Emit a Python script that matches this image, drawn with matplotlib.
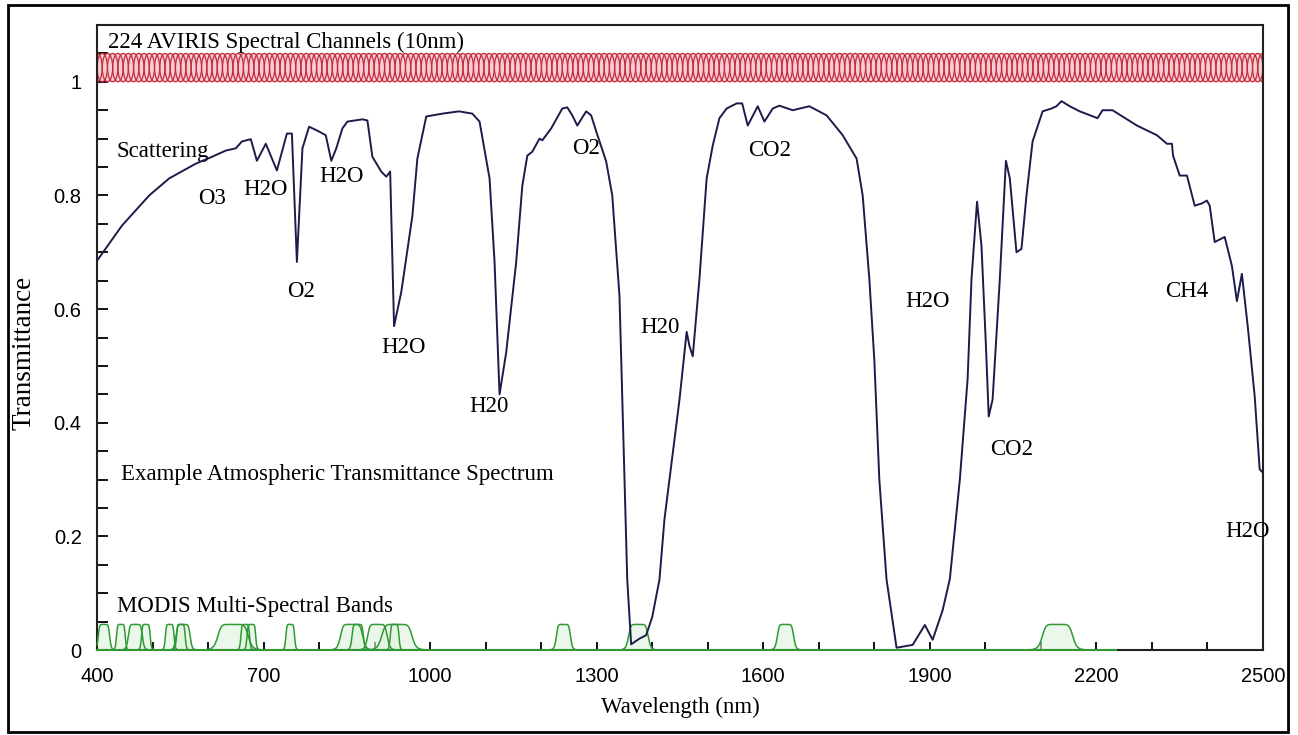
import matplotlib
matplotlib.use('Agg')
import matplotlib.pyplot as plt
from matplotlib.patches import Ellipse, Rectangle
import numpy as np

# atmospheric transmittance spectrum
wavelength = [400, 445, 494, 530, 578, 607, 632, 650, 661, 677, 688, 704, 724, 742, 751,
              760, 770, 782, 797, 812, 822, 831, 842, 851, 878, 887, 896, 912, 921, 928,
              935, 948, 968, 977, 993, 1022, 1052, 1076, 1089, 1107, 1116, 1125, 1137,
              1155, 1166, 1175, 1184, 1197, 1202, 1218, 1238, 1247, 1256, 1265, 1281,
              1290, 1299, 1317, 1328, 1341, 1355, 1362, 1377, 1389, 1400, 1413, 1422,
              1449, 1462, 1467, 1473, 1485, 1498, 1509, 1521, 1534, 1552, 1562, 1572,
              1590, 1602, 1617, 1629, 1653, 1683, 1714, 1743, 1768, 1779, 1791, 1800,
              1809, 1822, 1840, 1869, 1891, 1905, 1923, 1936, 1954, 1968, 1975, 1985,
              1993, 2001, 2006, 2013, 2026, 2037, 2044, 2056, 2065, 2074, 2085, 2103,
              2119, 2128, 2137, 2152, 2170, 2202, 2211, 2229, 2273, 2309, 2327, 2336,
              2338, 2350, 2363, 2377, 2390, 2399, 2404, 2413, 2431, 2444, 2453, 2462,
              2473, 2485, 2494, 2500]
transmittance = [0.685, 0.747, 0.800, 0.830, 0.856, 0.868, 0.879, 0.883, 0.895, 0.899, 0.861,
                 0.891, 0.844, 0.909, 0.909, 0.683, 0.883, 0.921, 0.914, 0.906, 0.861, 0.883,
                 0.918, 0.930, 0.934, 0.932, 0.868, 0.842, 0.833, 0.842, 0.570, 0.630, 0.764,
                 0.865, 0.939, 0.944, 0.948, 0.944, 0.930, 0.830, 0.683, 0.450, 0.524, 0.683,
                 0.817, 0.870, 0.877, 0.900, 0.897, 0.918, 0.953, 0.955, 0.941, 0.923, 0.948,
                 0.941, 0.913, 0.860, 0.800, 0.623, 0.124, 0.010, 0.020, 0.026, 0.058, 0.124,
                 0.230, 0.440, 0.560, 0.535, 0.517, 0.653, 0.830, 0.888, 0.936, 0.953, 0.962,
                 0.962, 0.923, 0.957, 0.930, 0.953, 0.958, 0.950, 0.957, 0.941, 0.906, 0.865,
                 0.800, 0.653, 0.510, 0.300, 0.124, 0.004, 0.009, 0.044, 0.018, 0.070, 0.125,
                 0.300, 0.477, 0.653, 0.789, 0.711, 0.535, 0.411, 0.441, 0.653, 0.861, 0.830,
                 0.700, 0.706, 0.800, 0.895, 0.948, 0.953, 0.957, 0.966, 0.957, 0.948, 0.936,
                 0.950, 0.950, 0.923, 0.906, 0.891, 0.891, 0.870, 0.835, 0.835, 0.782, 0.786,
                 0.791, 0.782, 0.718, 0.727, 0.676, 0.614, 0.662, 0.565, 0.447, 0.318, 0.312]

# MODIS bands inside 400-2500 nm (lower / upper edge, nm)
modis_lo = [405, 438, 459, 483, 526, 546, 545, 620, 662, 673, 743, 841, 862, 890, 931, 915,
            1230, 1360, 1628, 2105]
modis_hi = [420, 448, 479, 493, 536, 556, 565, 670, 672, 683, 753, 876, 877, 920, 941, 965,
            1250, 1390, 1652, 2155]
modis_height = 0.045
modis_end = 2235

# AVIRIS channels
aviris_n = 224
aviris_range = (400, 2500)
aviris_bottom, aviris_top = 1.0, 1.05

# absorption labels (text, wavelength, transmittance)
labels = [("O3", 607, 0.794), ("H2O", 703, 0.811), ("O2", 767, 0.631),
          ("H2O", 841, 0.834), ("H2O", 953, 0.533), ("H20", 1106, 0.429),
          ("O2", 1281, 0.882), ("H20", 1414, 0.568), ("CO2", 1612, 0.880),
          ("H2O", 1895, 0.614), ("CO2", 2048, 0.353), ("CH4", 2363, 0.631),
          ("H2O", 2473, 0.208)]

serif = 'Liberation Serif'
sans = 'Liberation Sans'

fig = plt.figure(figsize=(12.98, 7.35), dpi=100)
ax = fig.add_axes([97 / 1298, 1 - 650 / 735, 1166 / 1298, 625 / 735])

# AVIRIS channel rings
ax.axhspan(aviris_bottom, aviris_top, color='#f6ccd2', lw=0, zorder=1)
centers = np.linspace(aviris_range[0], aviris_range[1], aviris_n)
step = centers[1] - centers[0]
for c in centers:
    ax.add_patch(Ellipse((c, (aviris_bottom + aviris_top) / 2), 2 * step,
                         aviris_top - aviris_bottom, fill=False, ec='#c42a3a',
                         lw=0.9, zorder=2))

# MODIS bands
grid = np.arange(400, modis_end + 1, 0.5)
for lo, hi in zip(modis_lo, modis_hi):
    c = (lo + hi) / 2
    hw = (hi - lo) / 2 + 3
    y = modis_height / (1 + ((grid - c) / hw) ** 8)
    ax.fill_between(grid, 0, y, color='#dff2dc', alpha=0.6, lw=0, zorder=2)
    ax.plot(grid, y, color='#2f9a34', lw=1.1, zorder=3, clip_on=False)

# transmittance curve
ax.plot(wavelength, transmittance, color='#1c1c4c', lw=1.4, zorder=4)

# text
ax.text(420, 1.07, "224 AVIRIS Spectral Channels (10nm)", family=serif, fontsize=16.5,
        ha='left', va='center')
ax.text(436, 0.878, "Scattering", family=serif, fontsize=16.5, ha='left', va='center')
ax.text(443, 0.309, "Example Atmospheric Transmittance Spectrum", family=serif,
        fontsize=16.5, ha='left', va='center')
ax.text(436, 0.076, "MODIS Multi-Spectral Bands", family=serif, fontsize=16.5,
        ha='left', va='center')
for txt, x, y in labels:
    ax.text(x, y, txt, family=serif, fontsize=16.5, ha='center', va='center',
            clip_on=False, zorder=5)

ax.set_xlim(400, 2500)
ax.set_ylim(0, 1.1)
ax.set_xticks(np.arange(400, 2501, 300))
ax.set_xticks(np.arange(400, 2501, 100), minor=True)
ax.set_yticks([0, 0.2, 0.4, 0.6, 0.8, 1])
ax.set_yticklabels(['0', '0.2', '0.4', '0.6', '0.8', '1'])
ax.set_yticks(np.arange(0, 1.1, 0.05), minor=True)
ax.tick_params(axis='both', which='both', direction='in', width=1.3, colors='black',
               labelsize=14.5)
ax.tick_params(axis='x', which='both', length=6, pad=12)
ax.tick_params(axis='y', which='both', length=8, pad=11)
for lab in ax.get_xticklabels() + ax.get_yticklabels():
    lab.set_family(sans)

ax.set_xlabel("Wavelength (nm)", family=serif, fontsize=16.5, labelpad=8)
ax.set_ylabel("Transmittance", family=serif, fontsize=19.5)
ax.yaxis.set_label_coords((37 - 97) / 1166, (650 - 353) / 625)
for sp in ax.spines.values():
    sp.set_linewidth(1.5)
    sp.set_color('#222222')

# outer frame
fig.patches.append(Rectangle((8 / 1298, 3 / 735), 1280 / 1298, 727 / 735,
                             transform=fig.transFigure, fill=False, ec='black', lw=2))

fig.savefig('out.png', dpi=100)
